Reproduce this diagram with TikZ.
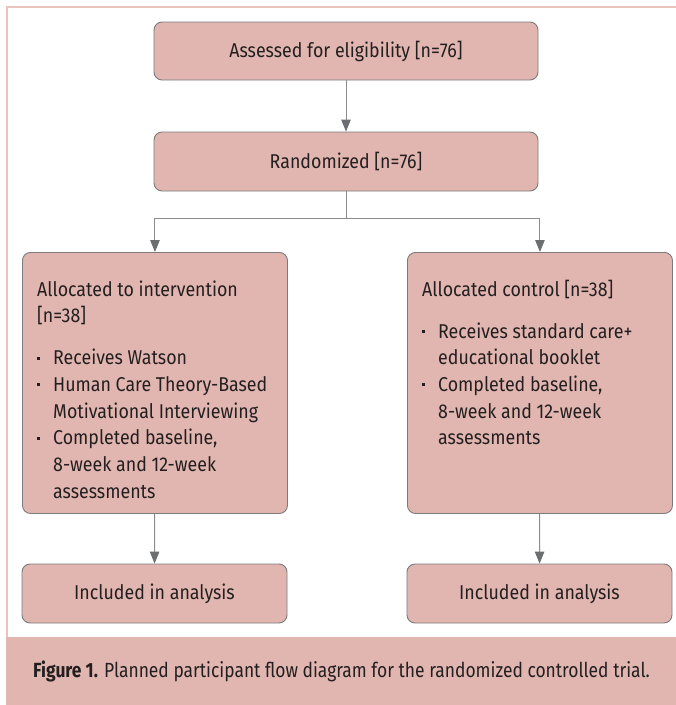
\documentclass[tikz,border=0pt]{standalone}
\usepackage{fontspec}
\setmainfont{Fira Sans}[FakeStretch=0.89]
\newfontfamily\capfam{Fira Sans}[FakeStretch=0.85]
\usetikzlibrary{arrows.meta}
\definecolor{boxfill}{HTML}{E2B6B0}
\definecolor{boxdraw}{HTML}{7B7B7B}
\definecolor{framecol}{HTML}{EBC3BD}
\definecolor{conn}{HTML}{8C8C8C}
\definecolor{tipcol}{HTML}{6D6E71}
\definecolor{ink}{HTML}{231F20}
\newcommand{\bxfont}{\fontsize{20}{26.7}\selectfont}
\newcommand{\capfont}{\capfam\fontsize{20.5}{26}\selectfont}
\newcommand{\bulmark}{\makebox[16pt][l]{\raisebox{5.2pt}{\rule{2.8pt}{2.8pt}}}}
\newcommand{\bulitem}[1]{\par\noindent\hangindent=16pt\hangafter=1\bulmark#1}
\begin{document}
\begin{tikzpicture}[x=1pt,y=-1pt,
  box/.style={draw=boxdraw, fill=boxfill, line width=0.9pt, rounded corners=8pt,
    inner sep=0pt, text=ink, font=\bxfont},
  txt/.style={inner sep=0pt, text=ink, font=\bxfont},
  arr/.style={draw=conn, line width=1pt, -{Triangle[length=12pt,width=9.5pt,color=tipcol]}},
  ln/.style={draw=conn, line width=1pt}]
\useasboundingbox (0,0) rectangle (676,705);
% frame
\fill[boxfill] (6,637) rectangle (676,705);
\draw[framecol, line width=2.6pt] (7,637) -- (7,7) -- (676,7);
% boxes
\node[box, minimum width=384pt, minimum height=58pt] (assess) at (346,51) {Assessed for eligibility [n=76]};
\node[box, minimum width=384pt, minimum height=59pt] (rand) at (346,161.5) {Randomized [n=76]};
\node[box, anchor=north west, minimum width=265pt, minimum height=261pt] (alloc) at (22,252) {};
\node[box, anchor=north west, minimum width=265pt, minimum height=261pt] (ctrl) at (407,252) {};
\node[box, minimum width=265pt, minimum height=59pt] (incl1) at (154.5,593.5) {Included in analysis};
\node[box, minimum width=265pt, minimum height=59pt] (incl2) at (539.5,593.5) {Included in analysis};
% box texts
\node[txt, anchor=base west] (allocT) at (37,296) {\begin{minipage}[t]{248pt}\bxfont
Allocated to intervention\\{}
[n=38]\par\vspace{15.3pt}
\bulitem{Receives Watson}
\bulitem{Human Care Theory-Based\\ Motivational Interviewing}
\bulitem{Completed baseline,\\ 8-week and 12-week\\ assessments}
\end{minipage}};
\node[txt, anchor=base west] (ctrlT) at (422,296) {\begin{minipage}[t]{248pt}\bxfont
Allocated control [n=38]\par\vspace{15.3pt}
\bulitem{Receives standard care+\\ educational booklet}
\bulitem{Completed baseline,\\ 8-week and 12-week\\ assessments}
\end{minipage}};
% connectors
\coordinate (fork) at (346,218);
\draw[arr] (assess) -- (rand);
\draw[ln] (rand) -- (fork);
\draw[arr] (fork) -| (alloc.north);
\draw[arr] (fork) -| (ctrl.north);
\draw[arr] (alloc) -- (incl1);
\draw[arr] (ctrl) -- (incl2);
% caption
\node[txt, anchor=west, font=\capfont] (cap) at (33,671) {\textbf{Figure 1.} Planned participant flow diagram for the randomized controlled trial.};
\end{tikzpicture}
\end{document}
